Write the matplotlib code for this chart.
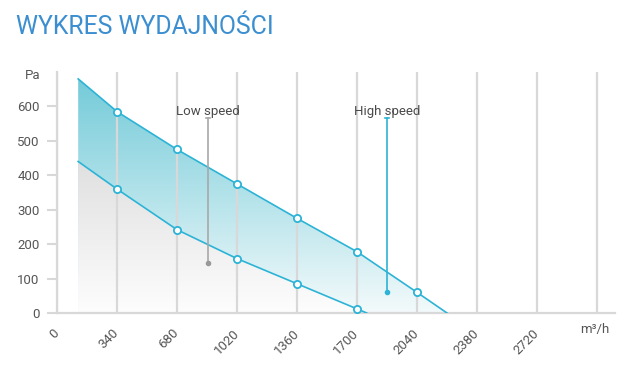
import numpy as np
import matplotlib
matplotlib.use("Agg")
import matplotlib.pyplot as plt
from matplotlib.patches import Polygon
from matplotlib.transforms import offset_copy

# ---- data ----
x_ticks = [0, 340, 680, 1020, 1360, 1700, 2040, 2380, 2720]
y_ticks = [0, 100, 200, 300, 400, 500, 600]

high_x = [120, 340, 680, 1020, 1360, 1700, 2040, 2210]
high_y = [680, 585, 475, 375, 275, 178, 60, 0]
high_marker_x = [340, 680, 1020, 1360, 1700, 2040]
high_marker_y = [585, 475, 375, 275, 178, 60]

low_x = [120, 340, 680, 1020, 1360, 1700, 1755]
low_y = [440, 360, 242, 158, 85, 12, 0]
low_marker_x = [340, 680, 1020, 1360, 1700]
low_marker_y = [360, 242, 158, 85, 12]

low_label = "Low speed"
low_ann_x, low_ann_top, low_ann_bot = 856, 566, 144
high_label = "High speed"
high_ann_x, high_ann_top, high_ann_bot = 1872, 566, 60

title = "WYKRES WYDAJNOŚCI"
x_unit = "m³/h"
y_unit = "Pa"

# ---- style ----
plt.rcParams['font.family'] = ['Roboto', 'DejaVu Sans']
W, H = 627, 374
fig = plt.figure(figsize=(W / 100, H / 100), dpi=100)
ax = fig.add_axes([57 / W, 1 - 313 / H, (615 - 57) / W, (313 - 72) / H])
xmax = (615 - 57) / 60 * 340
ax.set_xlim(0, xmax)
ax.set_ylim(0, 700)

line_col = '#2cb3d6'
grid_col = '#d8d8d8'
text_col = '#555555'

# gradient fills
def grad_fill(xs, ys, top_val, c_top, c_bot, z):
    ny = 200
    yy = np.linspace(0, 700, ny)
    t = np.clip(yy / top_val, 0, 1)[:, None]
    c_top = np.array(c_top) / 255
    c_bot = np.array(c_bot) / 255
    img = c_bot[None, None, :] * (1 - t[..., None]) + c_top[None, None, :] * t[..., None]
    img = np.repeat(img, 2, axis=1)
    im = ax.imshow(img, extent=[0, xmax, 0, 700], origin='lower', aspect='auto',
                   zorder=z, interpolation='bilinear')
    poly = Polygon(list(zip(xs, ys)) + [(xs[-1], 0), (xs[0], 0)], closed=True,
                   transform=ax.transData, facecolor='none', edgecolor='none')
    ax.add_patch(poly)
    im.set_clip_path(poly)

grad_fill(high_x, high_y, 680, (116, 203, 217), (243, 250, 251), 0.2)
grad_fill(low_x, low_y, 440, (224, 224, 224), (253, 253, 253), 0.3)

# grid
ax.set_xticks(x_ticks + [3060])
ax.set_xticklabels([str(v) for v in x_ticks] + [''])
ax.set_yticks(y_ticks)
ax.set_yticklabels([str(v) for v in y_ticks])
ax.grid(axis='x', color=grid_col, linewidth=1.6)
ax.set_axisbelow(True)
for gl in ax.get_xgridlines():
    gl.set_zorder(0.5)

for s in ['top', 'right']:
    ax.spines[s].set_visible(False)
for s in ['left', 'bottom']:
    ax.spines[s].set_color(grid_col)
    ax.spines[s].set_linewidth(1.6)
    ax.spines[s].set_zorder(0.6)

ax.tick_params(axis='y', length=7.5, width=1.5, color=grid_col, pad=5,
               labelsize=9.5, labelcolor=text_col)
ax.tick_params(axis='x', length=0, pad=13, labelsize=9.5, labelcolor=text_col)
for lab in ax.get_xticklabels():
    lab.set_rotation(45)
    lab.set_ha('right')
    lab.set_va('center')
    lab.set_rotation_mode('anchor')

# curves
ax.plot(high_x, high_y, color=line_col, lw=1.2, zorder=3)
ax.plot(low_x, low_y, color=line_col, lw=1.2, zorder=3)
ax.plot(high_marker_x, high_marker_y, 'o', ms=5.2, mfc='white', mec=line_col, mew=1.3, zorder=4)
ax.plot(low_marker_x, low_marker_y, 'o', ms=5.2, mfc='white', mec=line_col, mew=1.3, zorder=4)

# annotations
ann_gray = '#a8a8a8'
ax.plot([low_ann_x, low_ann_x], [low_ann_bot, low_ann_top], color=ann_gray, lw=1.2, zorder=3.5)
ax.plot([low_ann_x - 12, low_ann_x + 12], [low_ann_top, low_ann_top], color=ann_gray, lw=1.2, zorder=3.5)
ax.plot([low_ann_x], [low_ann_bot], 'o', ms=3, color='#999999', zorder=3.6)
ax.text(low_ann_x, 576, low_label, ha='center', va='baseline', fontsize=9.5, color='#4a4a4a', zorder=5)

ax.plot([high_ann_x, high_ann_x], [high_ann_bot, high_ann_top], color=line_col, lw=1.2, zorder=3.5)
ax.plot([high_ann_x - 12, high_ann_x + 12], [high_ann_top, high_ann_top], color=line_col, lw=1.2, zorder=3.5)
ax.plot([high_ann_x], [high_ann_bot], 'o', ms=3, color=line_col, zorder=3.6)
ax.text(high_ann_x, 576, high_label, ha='center', va='baseline', fontsize=9.5, color='#4a4a4a', zorder=5)

# units
ax.text(-17 * 340 / 60, 690, y_unit, ha='right', va='center', fontsize=9.5, color=text_col)
tr = offset_copy(ax.transData, fig=fig, x=0, y=-17, units='dots')
ax.text(3060 - 2 * 340 / 60, 0, x_unit, transform=tr, ha='center', va='center',
        fontsize=9.5, color=text_col)

# title
fig.text(16 / W, 1 - 34 / H, title, ha='left', va='baseline', fontsize=17.8,
         color='#3b8fd0')

fig.savefig('out.png', dpi=100)
